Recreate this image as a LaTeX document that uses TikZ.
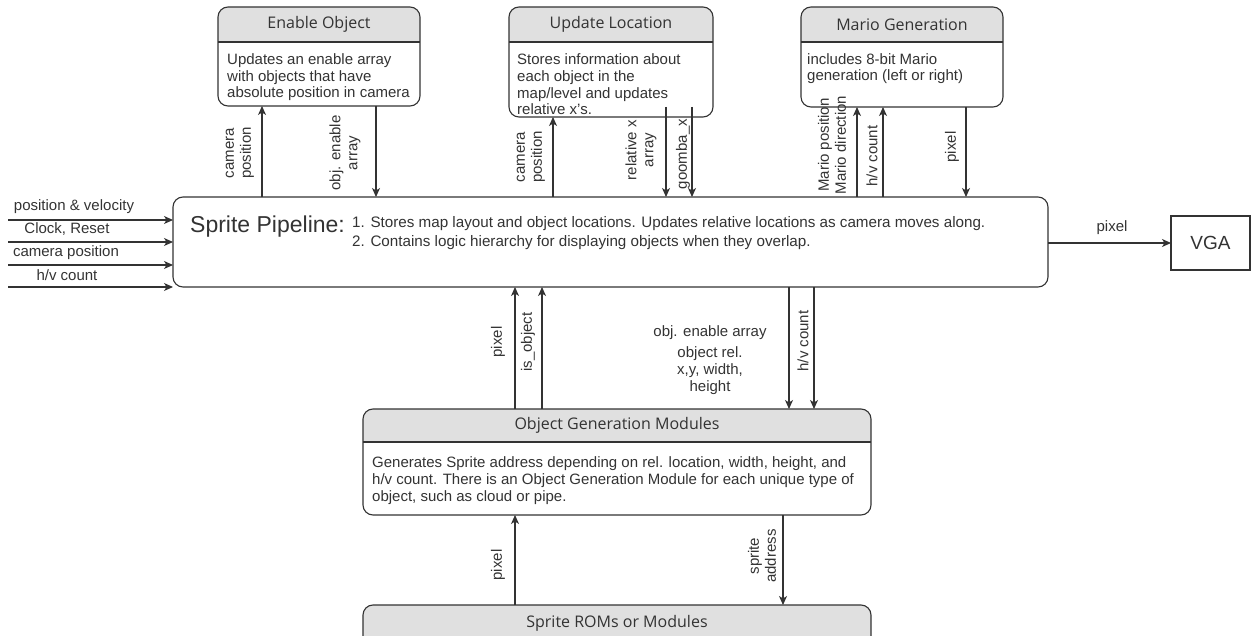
\documentclass[tikz,border=0pt]{standalone}
\usepackage{fontspec}
\setmainfont{Liberation Sans}
\newfontfamily\headfont{Open Sans}
\usetikzlibrary{arrows.meta,calc}

\definecolor{ink}{HTML}{333333}
\definecolor{hdrgray}{HTML}{E0E0E0}

\tikzset{
  wire/.style={draw=ink, line width=1.1pt},
  arr/.style={wire, -{Stealth[length=9pt,width=8pt,inset=2.5pt]}},
  txt/.style={inner sep=0pt, text=ink, font=\fontsize{15}{17}\selectfont},
  sidelabel/.style={txt, rotate=90, align=center},
  % multi-line text is placed by the baseline of its last line
  bodytext/.style={inner sep=0pt, text=ink, anchor=base west, align=left,
                   font=\fontsize{15}{16.8}\selectfont},
  headtitle/.style={inner sep=0pt, text=ink, font=\headfont\fontsize{16}{18}\selectfont},
}

% Module box with a grey title band: name, x1, y1, x2, y2, band bottom, title
\newcommand{\lanebox}[7]{%
  \node[fill=white, rounded corners=10pt, outer sep=0pt, inner sep=0pt,
        minimum width={(#4-#2)*1pt}, minimum height={(#5-#3)*1pt}]
        (#1) at ({(#2+#4)/2},{(#3+#5)/2}) {};
  \begin{scope}
    \clip (#2-5,#3-5) rectangle (#4+5,#6);
    \fill[hdrgray, rounded corners=10pt] (#1.north west) rectangle (#1.south east);
  \end{scope}
  \draw[wire] (#2,#6) -- (#4,#6);
  \draw[wire, rounded corners=10pt] (#1.north west) rectangle (#1.south east);
  \node[headtitle] (#1-title) at ({(#2+#4)/2},{(#3+#6)/2}) {#7};
}

\begin{document}
\begin{tikzpicture}[x=1pt, y=-1pt]
\useasboundingbox (0,0) rectangle (1251,636);
\clip (0,0) rectangle (1251,636);

% ---------- modules above the pipeline ----------
\lanebox{eo}{218}{7}{420}{106}{42}{Enable Object}
\node[bodytext] (eo-body) at (227,98)
  {Updates an enable array\\with objects that have\\absolute position in camera};

\lanebox{ul}{509}{7}{713}{117}{42}{Update Location}
\node[bodytext] (ul-body) at (517,115)
  {Stores information about\\each object in the\\map/level and updates\\relative x's.};

\lanebox{mg}{801}{7}{1003}{107}{42}{Mario Generation}
\node[bodytext] (mg-body) at (807,81)
  {includes 8-bit Mario\\generation (left or right)};

% ---------- sprite pipeline ----------
\node[draw=ink, line width=1.1pt, rounded corners=10pt, outer sep=0pt, inner sep=0pt,
      minimum width=875pt, minimum height=90pt] (pipe) at (610.5,242) {};
\node[inner sep=0pt, text=ink, anchor=base west, font=\fontsize{23}{26}\selectfont]
  (pipe-title) at (190,233) {Sprite Pipeline:};
\node[bodytext, font=\fontsize{15.2}{19}\selectfont] (pipe-body) at (352,247)
  {1. Stores map layout and object locations. Updates relative locations as camera moves along.\\
   2. Contains logic hierarchy for displaying objects when they overlap.};

% ---------- VGA ----------
\node[draw=ink, line width=1.1pt, outer sep=0pt, minimum width=79pt, minimum height=54pt,
      text=ink, font=\fontsize{19}{22}\selectfont] (vga) at (1210.5,243) {VGA};

% ---------- modules below the pipeline ----------
\lanebox{ogm}{363}{409}{871}{515}{442}{Object Generation Modules}
\node[bodytext, font=\fontsize{15}{17}\selectfont] (ogm-body) at (372,501)
  {Generates Sprite address depending on rel. location, width, height, and\\
   h/v count. There is an Object Generation Module for each unique type of\\
   object, such as cloud or pipe.};

\lanebox{rom}{363}{605}{871}{700}{641}{Sprite ROMs or Modules}

% ---------- tap positions ----------
\coordinate (cEoCam) at (262,0);
\coordinate (cEoEn)  at (376,0);
\coordinate (cUlCam) at (553,0);
\coordinate (cUlRel) at (666,0);
\coordinate (cUlGmb) at (692,0);
\coordinate (cMgPos) at (857,0);
\coordinate (cMgHv)  at (883,0);
\coordinate (cMgPix) at (966,0);
\coordinate (cOgPix) at (515,0);
\coordinate (cOgObj) at (542,0);
\coordinate (cOgEn)  at (789,0);
\coordinate (cOgHv)  at (814,0);
\coordinate (cRomPix) at (515,0);
\coordinate (cRomAdr) at (783,0);
\coordinate (ulRelStart) at ($(ul.south -| cUlRel)+(0,-10)$);
\coordinate (ulGmbStart) at ($(ul.south -| cUlGmb)+(0,-10)$);

% ---------- connectors above ----------
\draw[arr] (pipe.north -| cEoCam) -- (eo.south -| cEoCam);
\draw[arr] (eo.south -| cEoEn) -- (pipe.north -| cEoEn);
\draw[arr] (pipe.north -| cUlCam) -- (ul.south -| cUlCam);
\draw[arr] (ulRelStart) -- (pipe.north -| cUlRel);
\draw[arr] (ulGmbStart) -- (pipe.north -| cUlGmb);
\draw[arr] (pipe.north -| cMgPos) -- (mg.south -| cMgPos);
\draw[arr] (pipe.north -| cMgHv) -- (mg.south -| cMgHv);
\draw[arr] (mg.south -| cMgPix) -- (pipe.north -| cMgPix);

\node[sidelabel] (l-eocam) at (240,153) {camera\\position};
\node[sidelabel] (l-eoen)  at (345,153) {obj. enable\\array};
\node[sidelabel] (l-ulcam) at (531,157) {camera\\position};
\node[sidelabel] (l-ulrel) at (641,150) {relative x\\array};
\node[sidelabel] (l-ulgmb) at (683,154) {goomba\_x};
\node[sidelabel] (l-mgpos) at (832,145) {Mario position\\Mario direction};
\node[sidelabel] (l-mghv)  at (872,156) {h/v count};
\node[sidelabel] (l-mgpix) at (952,147) {pixel};

% ---------- inputs on the left ----------
\coordinate (in1) at (8,220);
\coordinate (in2) at (8,242);
\coordinate (in3) at (8,265);
\coordinate (in4) at (8,287);
\draw[arr] (in1) -- (pipe.west |- in1);
\draw[arr] (in2) -- (pipe.west |- in2);
\draw[arr] (in3) -- (pipe.west |- in3);
\draw[arr] (in4) -- (pipe.west |- in4);
\node[txt] (l-in1) at (74,207) {position \& velocity};
\node[txt] (l-in2) at (67,229) {Clock, Reset};
\node[txt] (l-in3) at (66,253) {camera position};
\node[txt] (l-in4) at (67,275) {h/v count};

% ---------- output ----------
\draw[arr] (pipe.east |- vga) -- (vga.west);
\node[txt] (l-out) at (1112,228) {pixel};

% ---------- connectors below ----------
\draw[arr] (ogm.north -| cOgPix) -- (pipe.south -| cOgPix);
\draw[arr] (ogm.north -| cOgObj) -- (pipe.south -| cOgObj);
\draw[arr] (pipe.south -| cOgEn) -- (ogm.north -| cOgEn);
\draw[arr] (pipe.south -| cOgHv) -- (ogm.north -| cOgHv);
\node[sidelabel] (l-ogpix) at (498,342) {pixel};
\node[sidelabel] (l-ogobj) at (528,342) {is\_object};
\node[sidelabel] (l-oghv)  at (803,341) {h/v count};
\node[txt] (l-ogen) at (710,333) {obj. enable array};
\node[txt, align=center] (l-ogrel) at (710,371) {object rel.\\x,y, width,\\height};

\draw[arr] (rom.north -| cRomPix) -- (ogm.south -| cRomPix);
\draw[arr] (ogm.south -| cRomAdr) -- (rom.north -| cRomAdr);
\node[sidelabel] (l-rompix) at (498,565) {pixel};
\node[sidelabel] (l-romadr) at (762,556) {sprite\\address};
\end{tikzpicture}
\end{document}
